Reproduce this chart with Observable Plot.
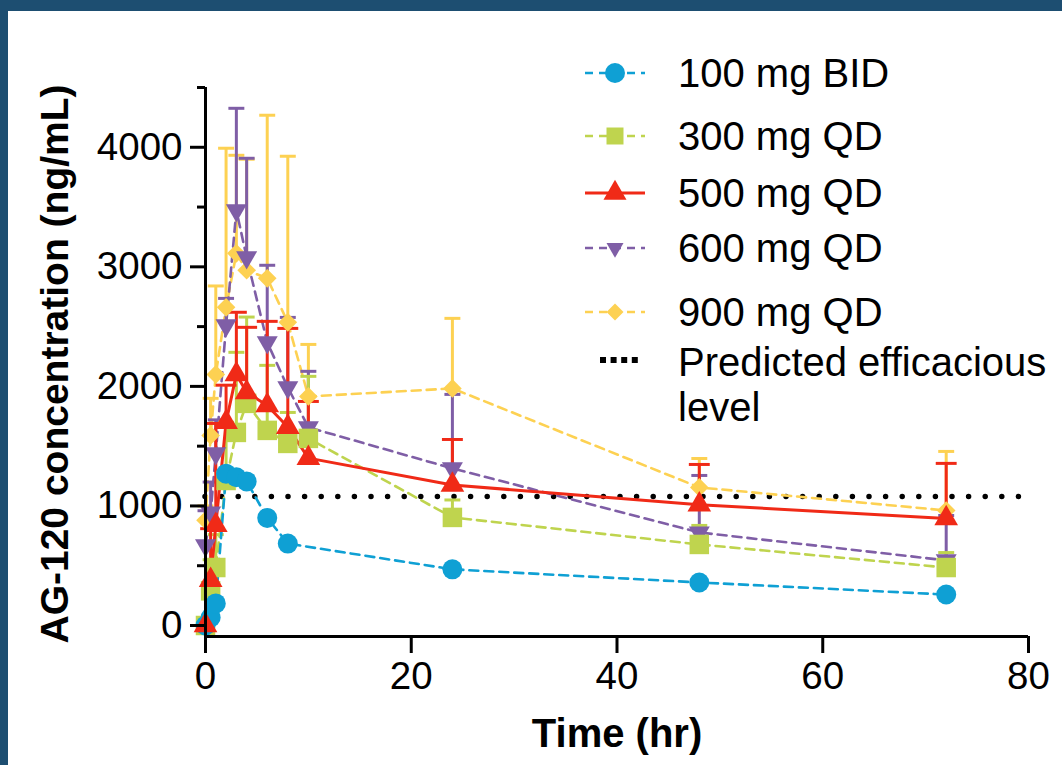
<!DOCTYPE html>
<html>
<head>
<meta charset="utf-8">
<script src="https://cdn.jsdelivr.net/npm/d3@7"></script>
<script src="https://cdn.jsdelivr.net/npm/@observablehq/plot@0.6"></script>
<style>
  html, body { margin: 0; padding: 0; background: #ffffff; }
  #wrap { position: relative; width: 1062px; height: 765px; overflow: hidden; background: #ffffff; }
  #wrap svg { position: absolute; left: 0; top: 0; }
  .band { position: absolute; background: #1d4e71; z-index: 5; }
</style>
</head>
<body>
<div id="wrap">
  <div class="band" style="left:0;top:0;width:1062px;height:11px"></div>
  <div class="band" style="left:0;top:0;width:8px;height:765px"></div>
</div>
<script>
// ---- data ----
const times = [0, 0.5, 1, 2, 3, 4, 6, 8, 10, 24, 48, 72];
const seriesNames = ["100 mg BID", "300 mg QD", "500 mg QD", "600 mg QD", "900 mg QD"];
const bid100 = [0, 67, 185, 1270, 1240, 1205, 900, 685, null, 470, 360, 259];
const qd300 = [0, 290, 485, 1213, 1615, 1858, 1632, 1523, 1565, 904, 678, 485];
const qd300Upper = [null, 550, 760, 1700, 2285, 2580, 2176, 1782, 2084, 1050, 837, 610];
const qd500 = [0, 380, 840, 1700, 2100, 1950, 1840, 1660, 1400, 1175, 1010, 895];
const qd500Upper = [null, 810, 1690, 2010, 2620, 2494, 2544, 2485, 1874, 1556, 1347, 1356];
const qd600 = [670, 945, 1440, 2510, 3473, 3079, 2368, 1992, 1657, 1314, 778, 545];
const qd600Upper = [960, 1200, 1720, 2736, 4326, 3908, 3013, 2577, 2126, 1933, 1255, 920];
const qd900 = [880, 1590, 2100, 2661, 3113, 2971, 2904, 2536, 1916, 1983, 1155, 962];
const qd900Upper = [1000, 1900, 2840, 3992, 3933, 3900, 4268, 3925, 2351, 2569, 1397, 1456];
const efficaciousLevel = 1080;
const efficaciousLabel = "Predicted efficacious level";
const xTicks = [0, 20, 40, 60, 80];
const yTicks = [0, 1000, 2000, 3000, 4000];
const yMinorTicks = [500, 1500, 2500, 3500, 4500];
const xLabel = "Time (hr)";
const yLabel = "AG-120 concentration (ng/mL)";

// ---- styles ----
const colors = {blue: "#0fa0d4", green: "#bfd44e", red: "#f02a17", purple: "#7f5ea6", yellow: "#fdd152"};

const triDown = {
  draw(ctx, size) {
    const y = Math.sqrt(size / (Math.sqrt(3) * 3));
    ctx.moveTo(0, 2 * y);
    ctx.lineTo(-Math.sqrt(3) * y, -y);
    ctx.lineTo(Math.sqrt(3) * y, -y);
    ctx.closePath();
  }
};
const capSym = {
  draw(ctx, size) {
    const w = Math.sqrt(size);
    ctx.moveTo(-w / 2, 0);
    ctx.lineTo(w / 2, 0);
  }
};

function rows(vals, upper) {
  const out = [];
  times.forEach((t, i) => {
    if (vals[i] == null) return;
    out.push({t, v: vals[i], u: upper ? upper[i] : null});
  });
  return out;
}

const series = [
  {name: seriesNames[4], data: rows(qd900, qd900Upper), color: colors.yellow, symbol: "diamond2", r: 8.4, dash: "9 6", capR: 9},
  {name: seriesNames[3], data: rows(qd600, qd600Upper), color: colors.purple, symbol: triDown, r: 7.8, dash: "9 6", capR: 9},
  {name: seriesNames[1], data: rows(qd300, qd300Upper), color: colors.green, symbol: "square", r: 11, dash: "9 6", capR: 9},
  {name: seriesNames[0], data: rows(bid100, null), color: colors.blue, symbol: "circle", r: 10, dash: "9 6", capR: 9},
  {name: seriesNames[2], data: rows(qd500, qd500Upper), color: colors.red, symbol: "triangle", r: 8.8, dash: null, capR: 11.8}
];

const xDomain = [0, 80];
const yDomain = [-92, 4500];

const marks = [
  Plot.ruleY([efficaciousLevel], {stroke: "black", strokeWidth: 5.5, strokeDasharray: "0 16.6", strokeLinecap: "round"})
];
for (const s of series) {
  const withErr = s.data.filter(d => d.u != null);
  marks.push(Plot.line(s.data, {x: "t", y: "v", stroke: s.color, strokeWidth: s.dash ? 2.6 : 3, strokeDasharray: s.dash || undefined}));
  marks.push(Plot.ruleX(withErr, {x: "t", y1: "v", y2: "u", stroke: s.color, strokeWidth: 3}));
  marks.push(Plot.dot(withErr, {x: "t", y: "u", symbol: capSym, r: s.capR, stroke: s.color, strokeWidth: 3, fill: "none"}));
}
for (const s of series) {
  marks.push(Plot.dot(s.data, {x: "t", y: "v", symbol: s.symbol, r: s.r, fill: s.color, stroke: "none"}));
}
marks.push(
  Plot.ruleX([xDomain[0]], {stroke: "black", strokeWidth: 3}),
  Plot.ruleY([yDomain[0]], {stroke: "black", strokeWidth: 3}),
  Plot.axisY({ticks: yTicks, tickSize: 15, tickPadding: 8, tickFormat: d => String(d), fontSize: 38.5, strokeWidth: 3, label: null}),
  Plot.axisY({ticks: yMinorTicks, tickSize: 8, tickFormat: () => "", strokeWidth: 3, label: null}),
  Plot.axisX({ticks: xTicks, tickSize: 17, tickPadding: 8, tickFormat: d => String(d), fontSize: 38.5, strokeWidth: 3, label: null}),
  Plot.text([xLabel], {frameAnchor: "bottom", dy: 98, fontSize: 40, fontWeight: "bold", textAnchor: "middle", lineAnchor: "middle", text: d => d}),
  Plot.text([yLabel], {frameAnchor: "left", rotate: -90, dx: -150, dy: 2, fontSize: 39, fontWeight: "bold", textAnchor: "middle", lineAnchor: "middle", text: d => d})
);

const chart = Plot.plot({
  width: 1062,
  height: 765,
  marginLeft: 205,
  marginRight: 34,
  marginTop: 87,
  marginBottom: 129,
  x: {domain: xDomain},
  y: {domain: yDomain},
  style: {fontFamily: "'Liberation Sans', Arial, sans-serif", color: "black", background: "white", overflow: "visible"},
  marks
});
document.getElementById("wrap").appendChild(chart);

// ---- legend (overlay) ----
const legendItems = [
  {label: seriesNames[0], color: colors.blue, symbol: d3.symbolCircle, size: Math.PI * 10 * 10, dash: "8 6"},
  {label: seriesNames[1], color: colors.green, symbol: d3.symbolSquare, size: 17 * 17, dash: "8 6"},
  {label: seriesNames[2], color: colors.red, symbol: d3.symbolTriangle, size: 229, dash: null},
  {label: seriesNames[3], color: colors.purple, symbol: triDown, size: 125, dash: "8 6"},
  {label: seriesNames[4], color: colors.yellow, symbol: d3.symbolDiamond2, size: 184, dash: "8 6"}
];
const legendY = [73, 136, 193, 248, 312];
const lg = d3.select("#wrap").append("svg")
  .attr("width", 1062).attr("height", 765)
  .style("font-family", "'Liberation Sans', Arial, sans-serif")
  .style("pointer-events", "none");
legendItems.forEach((it, i) => {
  const y = legendY[i];
  const g = lg.append("g");
  g.append("line").attr("x1", 585).attr("x2", 645).attr("y1", y).attr("y2", y)
    .attr("stroke", it.color).attr("stroke-width", it.dash ? 2.6 : 3)
    .attr("stroke-dasharray", it.dash);
  g.append("path").attr("d", d3.symbol(it.symbol, it.size)())
    .attr("transform", `translate(615,${y})`).attr("fill", it.color);
  g.append("text").attr("x", 678).attr("y", y).attr("dy", "0.36em")
    .attr("font-size", 40).attr("fill", "black").text(it.label);
});
{
  const y = 360;
  lg.append("line").attr("x1", 600).attr("x2", 638).attr("y1", y).attr("y2", y)
    .attr("stroke", "black").attr("stroke-width", 6).attr("stroke-dasharray", "6 4.6");
  const words = efficaciousLabel.split(" ");
  const t = lg.append("text").attr("font-size", 40).attr("fill", "black");
  t.append("tspan").attr("x", 678).attr("y", 362).attr("dy", "0.36em").text(words.slice(0, 2).join(" "));
  t.append("tspan").attr("x", 678).attr("y", 407).attr("dy", "0.36em").text(words.slice(2).join(" "));
}
</script>
</body>
</html>
